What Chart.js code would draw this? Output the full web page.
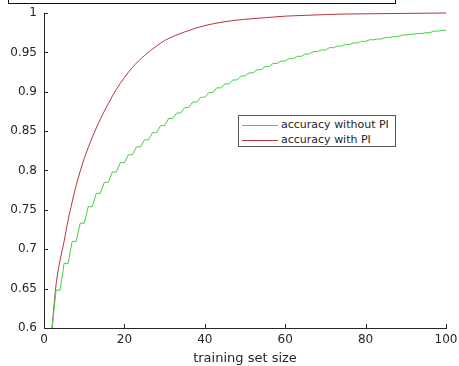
<!DOCTYPE html>
<html>
<head>
<meta charset="utf-8">
<script src="https://cdn.jsdelivr.net/npm/chart.js@4/dist/chart.umd.min.js"></script>
<style>
  body { margin: 0; background: #fff; }
  #wrap { position: relative; width: 459px; height: 366px; overflow: hidden; }
  #topBox { position: absolute; left: 8px; top: -11px; width: 388px; height: 15px; box-sizing: border-box; border: 1px solid #111; }
  #legend { position: absolute; left: 238px; top: 115px; width: 158px; height: 32px; box-sizing: border-box;
            border: 1px solid #555; background: #fff; font: 11px "DejaVu Sans", sans-serif; color: #262626; }
  .row { position: absolute; left: 3px; height: 13px; line-height: 13px; white-space: nowrap; }
  .row span.ln { display: inline-block; width: 36px; height: 0; border-top: 1px solid; vertical-align: middle; margin-right: 3px; }
</style>
</head>
<body>
<div id="wrap">
  <canvas id="accChart" width="459" height="366"></canvas>
  <div id="topBox"></div>
  <div id="legend">
    <div class="row" style="top:2px"><span class="ln" style="border-color:#44cf44"></span>accuracy without PI</div>
    <div class="row" style="top:17px"><span class="ln" style="border-color:#b8323c"></span>accuracy with PI</div>
  </div>
</div>
<script>
// red curve: accuracy with PI
const withPiSizes = [2, 3, 4, 5, 6, 7, 8, 9, 10, 12, 14, 16, 18, 20, 22, 25, 28, 30, 35, 40, 45, 50, 55, 60, 65, 70, 75, 80, 90, 100];
const withPiAcc = [0.600, 0.655, 0.686, 0.710, 0.737, 0.760, 0.781, 0.799, 0.815, 0.842, 0.865, 0.885, 0.903, 0.918, 0.931, 0.946, 0.958, 0.965, 0.976, 0.984, 0.989, 0.992, 0.994, 0.996, 0.997, 0.998, 0.9987, 0.999, 0.9995, 1.0];

// green curve: accuracy without PI, one value per training set size 2..100
const withoutPiSizes = Array.from({ length: 99 }, (_, i) => i + 2);
const withoutPiAcc = [
    0.600,
    0.648, 0.648, 0.682, 0.682, 0.710, 0.710, 0.733, 0.733, 0.754, 0.754,
    0.771, 0.771, 0.785, 0.785, 0.798, 0.798, 0.810, 0.810, 0.820, 0.820,
    0.830, 0.830, 0.839, 0.839, 0.848, 0.848, 0.857, 0.857, 0.866, 0.866,
    0.873, 0.873, 0.880, 0.880, 0.887, 0.887, 0.893, 0.893, 0.899, 0.899,
    0.905, 0.905, 0.910, 0.910, 0.915, 0.915, 0.920, 0.920, 0.924, 0.924,
    0.928, 0.928, 0.932, 0.932, 0.936, 0.936, 0.939, 0.939, 0.942, 0.942,
    0.945, 0.945, 0.948, 0.948, 0.951, 0.951, 0.953, 0.953, 0.956, 0.956,
    0.958, 0.958, 0.960, 0.960, 0.962, 0.962, 0.964, 0.964, 0.966, 0.966,
    0.967, 0.967, 0.969, 0.969, 0.970, 0.970, 0.972, 0.972, 0.973, 0.973,
    0.974, 0.974, 0.975, 0.975, 0.977, 0.977, 0.978, 0.978
];

const xTicks = [0, 20, 40, 60, 80, 100];
const yTicks = [0.6, 0.65, 0.7, 0.75, 0.8, 0.85, 0.9, 0.95, 1];

const AXIS_COLOR = '#262626';
const TICK_FONT = { family: 'DejaVu Sans', size: 12 };

// small inward tick marks, matlab style
const innerTicks = {
    id: 'innerTicks',
    afterDraw(chart) {
        const { ctx, chartArea, scales } = chart;
        ctx.save();
        ctx.strokeStyle = AXIS_COLOR;
        ctx.lineWidth = 1;
        ctx.beginPath();
        xTicks.forEach(v => {
            const px = Math.round(scales.x.getPixelForValue(v)) + 0.5;
            ctx.moveTo(px, chartArea.bottom);
            ctx.lineTo(px, chartArea.bottom - 4);
        });
        yTicks.forEach(v => {
            const py = Math.round(scales.y.getPixelForValue(v)) + 0.5;
            ctx.moveTo(chartArea.left, py);
            ctx.lineTo(chartArea.left + 4, py);
        });
        ctx.stroke();
        ctx.restore();
    }
};

const ctx = document.getElementById('accChart').getContext('2d');
new Chart(ctx, {
    type: 'line',
    data: {
        datasets: [
            {
                label: 'accuracy without PI',
                data: withoutPiSizes.map((x, i) => ({ x, y: withoutPiAcc[i] })),
                borderColor: '#44cf44', borderWidth: 1, pointRadius: 0, tension: 0, clip: 3
            },
            {
                label: 'accuracy with PI',
                data: withPiSizes.map((x, i) => ({ x, y: withPiAcc[i] })),
                borderColor: '#b8323c', borderWidth: 1, pointRadius: 0, cubicInterpolationMode: 'monotone', clip: 3
            }
        ]
    },
    options: {
        responsive: false,
        animation: false,
        layout: { padding: { top: 13, right: 13, left: 0, bottom: 0 } },
        plugins: { legend: { display: false }, tooltip: { enabled: false } },
        scales: {
            x: {
                type: 'linear', min: 0, max: 100,
                afterFit: s => { s.height = 38; s.paddingLeft = 0; s.paddingRight = 0; },
                afterBuildTicks: s => { s.ticks = xTicks.map(v => ({ value: v })); },
                grid: { display: false, drawTicks: false },
                border: { display: true, color: AXIS_COLOR, width: 1 },
                ticks: { font: TICK_FONT, color: AXIS_COLOR, padding: 5, maxRotation: 0 },
                title: { display: true, text: 'training set size', font: { family: 'DejaVu Sans', size: 13 }, color: AXIS_COLOR, padding: 0 }
            },
            y: {
                min: 0.6, max: 1,
                afterFit: s => { s.width = 44; s.paddingTop = 0; s.paddingBottom = 0; },
                afterBuildTicks: s => { s.ticks = yTicks.map(v => ({ value: v })); },
                grid: { display: false, drawTicks: false },
                border: { display: true, color: AXIS_COLOR, width: 1 },
                ticks: { font: TICK_FONT, color: AXIS_COLOR, padding: 7, callback: v => String(+v.toFixed(2)) }
            }
        }
    },
    plugins: [innerTicks]
});
</script>
</body>
</html>
